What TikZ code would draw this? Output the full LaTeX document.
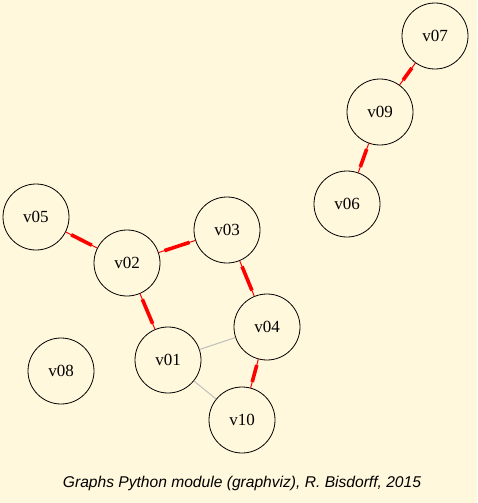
\documentclass[tikz,border=0pt]{standalone}
\usepackage{fontspec}
\usepackage{xcolor}
\setmainfont{Liberation Serif}
\newfontfamily\captionfont{Liberation Sans}
\usetikzlibrary{arrows.meta,positioning,calc}
\definecolor{cornsilk}{HTML}{FFF8DC}
\begin{document}
\begin{tikzpicture}[
    x=1pt, y=-1pt,
    vertex/.style={circle, draw, thick, inner sep=0pt, minimum size=66pt, font=\fontsize{17}{17}\selectfont},
    relthin/.style={draw=red, line width=1pt},
    relthick/.style={draw=red, line width=3.6pt, shorten <=6pt, shorten >=6pt},
    nonrel/.style={draw=black!25, line width=1pt}
]
\fill[cornsilk] (0,0) rectangle (477,503);
\useasboundingbox (0,0) rectangle (477,503);
\node[vertex] (v07) at (435,36) {v07};\node[vertex] (v09) at (380,112) {v09};
\node[vertex] (v06) at (347,204) {v06};\node[vertex] (v05) at (36,217) {v05};
\node[vertex] (v02) at (127,263) {v02};\node[vertex] (v03) at (227,230) {v03};
\node[vertex] (v04) at (267,327) {v04};\node[vertex] (v01) at (168,360) {v01};
\node[vertex] (v08) at (61,371) {v08};\node[vertex] (v10) at (242,420) {v10};
\draw[nonrel] (v01) -- (v04);\draw[nonrel] (v01) -- (v10);
\foreach \a/\b in {v05/v02, v02/v03, v02/v01, v03/v04, v04/v10, v07/v09, v09/v06}{
  \draw[relthin] (\a) -- (\b);\draw[relthick] (\a) -- (\b);
}
\node[font=\captionfont\itshape\fontsize{15.6}{15.6}\selectfont] (caption) at (242,483) {Graphs Python module (graphviz), R. Bisdorff, 2015};
\end{tikzpicture}
\end{document}
